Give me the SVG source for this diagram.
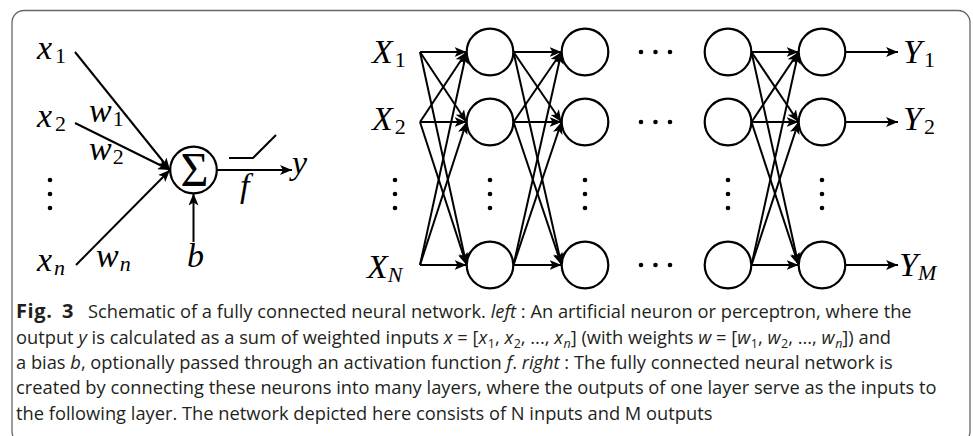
<svg xmlns="http://www.w3.org/2000/svg" width="973" height="436" viewBox="0 0 973 436">
<style>
.m{font-family:"Liberation Serif","Times New Roman",serif;font-style:italic;font-size:34px;fill:#000}
.s{font-style:normal;font-size:22px}
.si{font-style:italic;font-size:22px}
.ln{stroke:#000;stroke-width:2;fill:none}
.ar{stroke:#000;stroke-width:2;fill:none;marker-end:url(#ah)}
.nd{stroke:#000;stroke-width:2.2;fill:#fff}
.dot{fill:#000}
.cap{font-family:"Open Sans","Noto Sans","Liberation Sans",sans-serif;font-size:18.3px;fill:#231f20}
.it{font-style:italic}
.fb{font-weight:bold;font-size:20px}
.sb{font-size:12.5px}
</style>
<defs>
<marker id="ah" markerUnits="userSpaceOnUse" viewBox="0 0 12 10" refX="12" refY="5" markerWidth="12" markerHeight="10" orient="auto">
<path d="M0,0 L12,5 L0,10 L3,5 z" fill="#000"/>
</marker>
</defs>
<rect x="12" y="10.5" width="958" height="433" rx="12" fill="#fff" stroke="#666" stroke-width="1.3"/>

<!-- Left: perceptron -->
<g id="perceptron-connectors">
<line class="ar" x1="75" y1="52" x2="170" y2="170"/>
<line class="ar" x1="75" y1="123" x2="170" y2="170"/>
<line class="ar" x1="76" y1="265" x2="170" y2="170"/>
<line class="ar" x1="193.5" y1="242" x2="193.5" y2="193.5"/>
<line class="ar" x1="217" y1="170" x2="292" y2="170"/>
<polyline class="ln" points="229,158 253,158 276,135"/>
</g>
<g id="sum-node">
<circle class="nd" cx="193.5" cy="170" r="23.3"/>
<text x="194.5" y="185.5" text-anchor="middle" style="font-family:'Liberation Serif',serif;font-size:48px">Σ</text>
</g>
<g id="perceptron-labels">
<text class="m" x="37" y="59">x<tspan class="s" dx="3" dy="4">1</tspan></text>
<text class="m" x="37" y="127">x<tspan class="s" dx="3" dy="4">2</tspan></text>
<text class="m" x="37" y="271">x<tspan class="si" dx="2" dy="4">n</tspan></text>
<text class="m" x="89" y="122">w<tspan class="s" dx="1" dy="4">1</tspan></text>
<text class="m" x="89" y="160">w<tspan class="s" dx="1" dy="4">2</tspan></text>
<text class="m" x="96" y="267">w<tspan class="si" dx="1" dy="4">n</tspan></text>
<text class="m" x="187" y="267">b</text>
<text class="m" x="292" y="174">y</text>
<text class="m" x="240" y="197">f</text>
<circle class="dot" cx="50" cy="180" r="2.3"/><circle class="dot" cx="50" cy="194" r="2.3"/><circle class="dot" cx="50" cy="208" r="2.3"/>
</g>

<!-- Right: network -->
<g id="connectors">
<line class="ar" x1="420" y1="52" x2="466.5" y2="52"/>
<line class="ar" x1="420" y1="52" x2="466.5" y2="122"/>
<line class="ar" x1="420" y1="52" x2="466.5" y2="265"/>
<line class="ar" x1="420" y1="122" x2="466.5" y2="52"/>
<line class="ar" x1="420" y1="122" x2="466.5" y2="122"/>
<line class="ar" x1="420" y1="122" x2="466.5" y2="265"/>
<line class="ar" x1="420" y1="265" x2="466.5" y2="52"/>
<line class="ar" x1="420" y1="265" x2="466.5" y2="122"/>
<line class="ar" x1="420" y1="265" x2="466.5" y2="265"/>
<line class="ar" x1="513.5" y1="52" x2="561.5" y2="52"/>
<line class="ar" x1="513.5" y1="52" x2="561.5" y2="122"/>
<line class="ar" x1="513.5" y1="52" x2="561.5" y2="265"/>
<line class="ar" x1="513.5" y1="122" x2="561.5" y2="52"/>
<line class="ar" x1="513.5" y1="122" x2="561.5" y2="122"/>
<line class="ar" x1="513.5" y1="122" x2="561.5" y2="265"/>
<line class="ar" x1="513.5" y1="265" x2="561.5" y2="52"/>
<line class="ar" x1="513.5" y1="265" x2="561.5" y2="122"/>
<line class="ar" x1="513.5" y1="265" x2="561.5" y2="265"/>
<line class="ar" x1="751.5" y1="52" x2="798.5" y2="52"/>
<line class="ar" x1="751.5" y1="52" x2="798.5" y2="122"/>
<line class="ar" x1="751.5" y1="52" x2="798.5" y2="265"/>
<line class="ar" x1="751.5" y1="122" x2="798.5" y2="52"/>
<line class="ar" x1="751.5" y1="122" x2="798.5" y2="122"/>
<line class="ar" x1="751.5" y1="122" x2="798.5" y2="265"/>
<line class="ar" x1="751.5" y1="265" x2="798.5" y2="52"/>
<line class="ar" x1="751.5" y1="265" x2="798.5" y2="122"/>
<line class="ar" x1="751.5" y1="265" x2="798.5" y2="265"/>
<line class="ar" x1="845.5" y1="52" x2="898" y2="52"/>
<line class="ar" x1="845.5" y1="122" x2="898" y2="122"/>
<line class="ar" x1="845.5" y1="265" x2="898" y2="265"/>
</g>
<g id="layer1">
<circle class="nd" cx="490" cy="52" r="23.3"/>
<circle class="nd" cx="490" cy="122" r="23.3"/>
<circle class="nd" cx="490" cy="265" r="23.3"/>
</g>
<g id="layer2">
<circle class="nd" cx="585" cy="52" r="23.3"/>
<circle class="nd" cx="585" cy="122" r="23.3"/>
<circle class="nd" cx="585" cy="265" r="23.3"/>
</g>
<g id="layer3">
<circle class="nd" cx="728" cy="52" r="23.3"/>
<circle class="nd" cx="728" cy="122" r="23.3"/>
<circle class="nd" cx="728" cy="265" r="23.3"/>
</g>
<g id="layer4">
<circle class="nd" cx="822" cy="52" r="23.3"/>
<circle class="nd" cx="822" cy="122" r="23.3"/>
<circle class="nd" cx="822" cy="265" r="23.3"/>
</g>
<g id="network-labels">
<text class="m" x="372" y="63">X<tspan class="s" dx="2" dy="4">1</tspan></text>
<text class="m" x="372" y="130">X<tspan class="s" dx="2" dy="4">2</tspan></text>
<text class="m" x="367" y="278">X<tspan class="si" dx="0" dy="4">N</tspan></text>
<text class="m" x="903" y="63">Y<tspan class="s" dx="2" dy="4">1</tspan></text>
<text class="m" x="903" y="130">Y<tspan class="s" dx="2" dy="4">2</tspan></text>
<text class="m" x="899" y="276">Y<tspan class="si" dx="0" dy="4">M</tspan></text>
</g>
<g id="ellipses">
<circle class="dot" cx="395" cy="180" r="2.3"/><circle class="dot" cx="395" cy="194" r="2.3"/><circle class="dot" cx="395" cy="208" r="2.3"/>
<circle class="dot" cx="490" cy="180" r="2.3"/><circle class="dot" cx="490" cy="194" r="2.3"/><circle class="dot" cx="490" cy="208" r="2.3"/>
<circle class="dot" cx="585" cy="180" r="2.3"/><circle class="dot" cx="585" cy="194" r="2.3"/><circle class="dot" cx="585" cy="208" r="2.3"/>
<circle class="dot" cx="728" cy="180" r="2.3"/><circle class="dot" cx="728" cy="194" r="2.3"/><circle class="dot" cx="728" cy="208" r="2.3"/>
<circle class="dot" cx="822" cy="180" r="2.3"/><circle class="dot" cx="822" cy="194" r="2.3"/><circle class="dot" cx="822" cy="208" r="2.3"/>
<circle class="dot" cx="641" cy="52" r="2.3"/><circle class="dot" cx="655.5" cy="52" r="2.3"/><circle class="dot" cx="670" cy="52" r="2.3"/>
<circle class="dot" cx="641" cy="122" r="2.3"/><circle class="dot" cx="655.5" cy="122" r="2.3"/><circle class="dot" cx="670" cy="122" r="2.3"/>
<circle class="dot" cx="641" cy="265" r="2.3"/><circle class="dot" cx="655.5" cy="265" r="2.3"/><circle class="dot" cx="670" cy="265" r="2.3"/>
</g>

<g id="caption" class="cap">
<text x="16" y="318"><tspan class="fb" letter-spacing="0.6">Fig.</tspan><tspan class="fb" x="62">3</tspan><tspan x="88">Schematic of a fully connected neural network. </tspan><tspan class="it">left</tspan> : An artificial neuron or perceptron, where the</text>
<text x="16" y="343.5">output <tspan class="it">y</tspan> is calculated as a sum of weighted inputs <tspan class="it">x</tspan> = [<tspan class="it">x</tspan><tspan class="sb" dx="0.5" dy="4">1</tspan><tspan dy="-4">, </tspan><tspan class="it">x</tspan><tspan class="sb" dx="0.5" dy="4">2</tspan><tspan dy="-4">, ..., </tspan><tspan class="it">x</tspan><tspan class="it sb" dx="0.5" dy="4">n</tspan><tspan dy="-4">] (with weights </tspan><tspan class="it">w</tspan> = [<tspan class="it">w</tspan><tspan class="sb" dx="0.5" dy="4">1</tspan><tspan dy="-4">, </tspan><tspan class="it">w</tspan><tspan class="sb" dx="0.5" dy="4">2</tspan><tspan dy="-4">, ..., </tspan><tspan class="it">w</tspan><tspan class="it sb" dx="0.5" dy="4">n</tspan><tspan dy="-4">]) and</tspan></text>
<text x="16" y="369">a bias <tspan class="it">b</tspan>, optionally passed through an activation function <tspan class="it">f</tspan>. <tspan class="it">right</tspan> : The fully connected neural network is</text>
<text x="16" y="394">created by connecting these neurons into many layers, where the outputs of one layer serve as the inputs to</text>
<text x="16" y="419.5">the following layer. The network depicted here consists of N inputs and M outputs</text>
</g>
</svg>
